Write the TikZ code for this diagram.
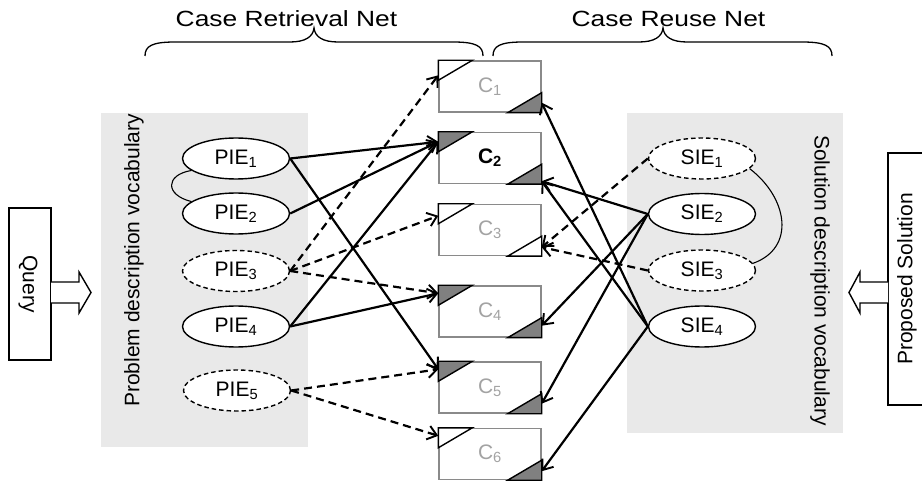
\documentclass[tikz,border=0pt]{standalone}
\usepackage{fontspec}
\setmainfont{Liberation Sans}
\usepackage{graphicx}
\usetikzlibrary{arrows.meta,shapes.geometric,calc}
\definecolor{panelgray}{HTML}{E9E9E9}
\definecolor{trigray}{HTML}{808080}
\definecolor{boxgray}{HTML}{8A8A8A}
\definecolor{labelgray}{HTML}{A3A3A3}
\newcommand\cornerTL[2]{\filldraw[tri, fill=#2] (#1.north west) -- ++(34,0) -- ++(-34,20) -- cycle;}
\newcommand\cornerBR[2]{\filldraw[tri, fill=#2] (#1.south east) -- ++(-34,0) -- ++(34,-20) -- cycle;}
\begin{document}
\begin{tikzpicture}[x=1pt,y=-1pt,
  font=\fontsize{21}{25}\selectfont,
  elem/.style={ellipse, draw, line width=1.4pt, fill=white, minimum width=107pt, minimum height=41pt, inner sep=0pt},
  delem/.style={elem, dash pattern=on 4.5pt off 3pt},
  casebox/.style={rectangle, draw=boxgray, line width=1.4pt, fill=white, minimum width=102pt, minimum height=51pt, inner sep=0pt, text=labelgray},
  tri/.style={draw=black, line width=1.4pt, line join=miter},
  sarr/.style={-{Straight Barb[length=9pt,width=14pt,line width=1.9pt]}, line width=2.2pt},
  darr/.style={sarr, dash pattern=on 8pt off 5pt},
  panel/.style={fill=panelgray, draw=none},
  thin/.style={line width=1.1pt},
  brace/.style={line width=1.3pt},
  title/.style={anchor=base, inner sep=0pt},
  blockarrow/.style={draw, fill=white, line width=1.4pt, line join=miter},
  sidebox/.style={draw, fill=white, line width=1.4pt}
]
\useasboundingbox (0,0) rectangle (922,481);

% panels
\fill[panel] (101,113) rectangle (308,447);
\fill[panel] (627,113) rectangle (843,433);

% titles and braces
\node[title] (t1) at (286.5,27) {\scalebox{1.2}[1]{\fontsize{22}{26}\selectfont Case Retrieval Net}};
\node[title] (t2) at (668.5,27) {\scalebox{1.2}[1]{\fontsize{22}{26}\selectfont Case Reuse Net}};
\draw[brace] (145,56) .. controls (145,46) and (152,42) .. (175,42) -- (290,42)
  .. controls (305,42) and (313,37) .. (314,28) .. controls (315,37) and (323,42) .. (338,42)
  -- (453,42) .. controls (476,42) and (483,46) .. (483,56);
\draw[brace] (493,56) .. controls (493,46) and (500,42) .. (523,42) -- (639,42)
  .. controls (654,42) and (662,37) .. (663,28) .. controls (664,37) and (672,42) .. (687,42)
  -- (802,42) .. controls (825,42) and (832,46) .. (832,56);

% side boxes
\draw[sidebox] (9,208) rectangle (51,360);
\node[rotate=-90] (q) at (28,284) {Query};
\draw[blockarrow] (51,282) -- (79,282) -- (79,272) -- (91,292.5) -- (79,313) -- (79,303) -- (51,303);
\draw[sidebox] (888,153) rectangle (932,405);
\node[rotate=90] (ps) at (907,279) {Proposed Solution};
\draw[blockarrow] (888,282) -- (860,282) -- (860,272) -- (849,292.5) -- (860,313) -- (860,303) -- (888,303);

% vocab labels
\node[rotate=90] (pdv) at (134,260.5) {Problem description vocabulary};
\node[rotate=-90] (sdv) at (820,280.5) {Solution description vocabulary};

% problem elements
\node[elem]  (pie1) at (236,158.5) {PIE\textsubscript{1}};
\node[elem]  (pie2) at (236,213.5) {PIE\textsubscript{2}};
\node[delem] (pie3) at (236,271)   {PIE\textsubscript{3}};
\node[elem]  (pie4) at (236,326.5) {PIE\textsubscript{4}};
\node[delem] (pie5) at (237,390.5) {PIE\textsubscript{5}};

% solution elements
\node[delem] (sie1) at (702,158.5) {SIE\textsubscript{1}};
\node[elem]  (sie2) at (702,214)   {SIE\textsubscript{2}};
\node[delem] (sie3) at (702,270.5) {SIE\textsubscript{3}};
\node[elem]  (sie4) at (702,326.5) {SIE\textsubscript{4}};

\draw[thin] (pie1.195) .. controls (165,175) and (165,195) .. (pie2.165);
\draw[thin] (sie1.-12) .. controls (788,198) and (796,248) .. (sie3.8);

% cases
\node[casebox] (c1) at (490,86.5) {C\textsubscript{1}};
\node[casebox, text=black] (c2) at (490,158) {\textbf{C\textsubscript{2}}};
\node[casebox] (c3) at (490,230) {C\textsubscript{3}};
\node[casebox] (c4) at (490,311.5) {C\textsubscript{4}};
\node[casebox] (c5) at (490,387.5) {C\textsubscript{5}};
\node[casebox] (c6) at (490,454) {C\textsubscript{6}};

\cornerTL{c1}{white}    \cornerBR{c1}{trigray}
\cornerTL{c2}{trigray}  \cornerBR{c2}{trigray}
\cornerTL{c3}{white}    \cornerBR{c3}{white}
\cornerTL{c4}{trigray}  \cornerBR{c4}{trigray}
\cornerTL{c5}{trigray}  \cornerBR{c5}{trigray}
\cornerTL{c6}{white}    \cornerBR{c6}{trigray}

\coordinate (c1in) at ($(c1.north west)+(0,15)$);
\coordinate (c2in) at ($(c2.north west)+(0,10)$);
\coordinate (c3in) at ($(c3.north west)+(0,12)$);
\coordinate (c4in) at ($(c4.north west)+(0,8)$);
\coordinate (c5in) at ($(c5.north west)+(0,8)$);
\coordinate (c6in) at ($(c6.north west)+(0,8)$);
\coordinate (c1out) at ($(c1.south east)+(0,-10)$);
\coordinate (c2out) at ($(c2.south east)+(0,-3)$);
\coordinate (c3out) at ($(c3.south east)+(0,-9)$);
\coordinate (c4out) at ($(c4.south east)+(0,-12)$);
\coordinate (c5out) at ($(c5.south east)+(0,-10)$);
\coordinate (c6out) at ($(c6.south east)+(0,-9)$);

% retrieval net connectors
\draw[sarr] (pie1.east) -- (c2in);
\draw[sarr] (pie1.east) -- (c5in);
\draw[sarr] (pie2.east) -- (c2in);
\draw[darr] (pie3.east) -- (c1in);
\draw[darr] (pie3.east) -- (c3in);
\draw[darr] (pie3.east) -- (c4in);
\draw[sarr] (pie4.east) -- (c2in);
\draw[sarr] (pie4.east) -- (c4in);
\draw[darr] (pie5.east) -- (c5in);
\draw[darr] (pie5.east) -- (c6in);

% reuse net connectors
\draw[darr] (sie1.west) -- (c3out);
\draw[sarr] (sie2.west) -- (c2out);
\draw[sarr] (sie2.west) -- (c4out);
\draw[sarr] (sie2.west) -- (c5out);
\draw[darr] (sie3.west) -- (c3out);
\draw[sarr] (sie4.west) -- (c1out);
\draw[sarr] (sie4.west) -- (c2out);
\draw[sarr] (sie4.west) -- (c6out);
\end{tikzpicture}
\end{document}
